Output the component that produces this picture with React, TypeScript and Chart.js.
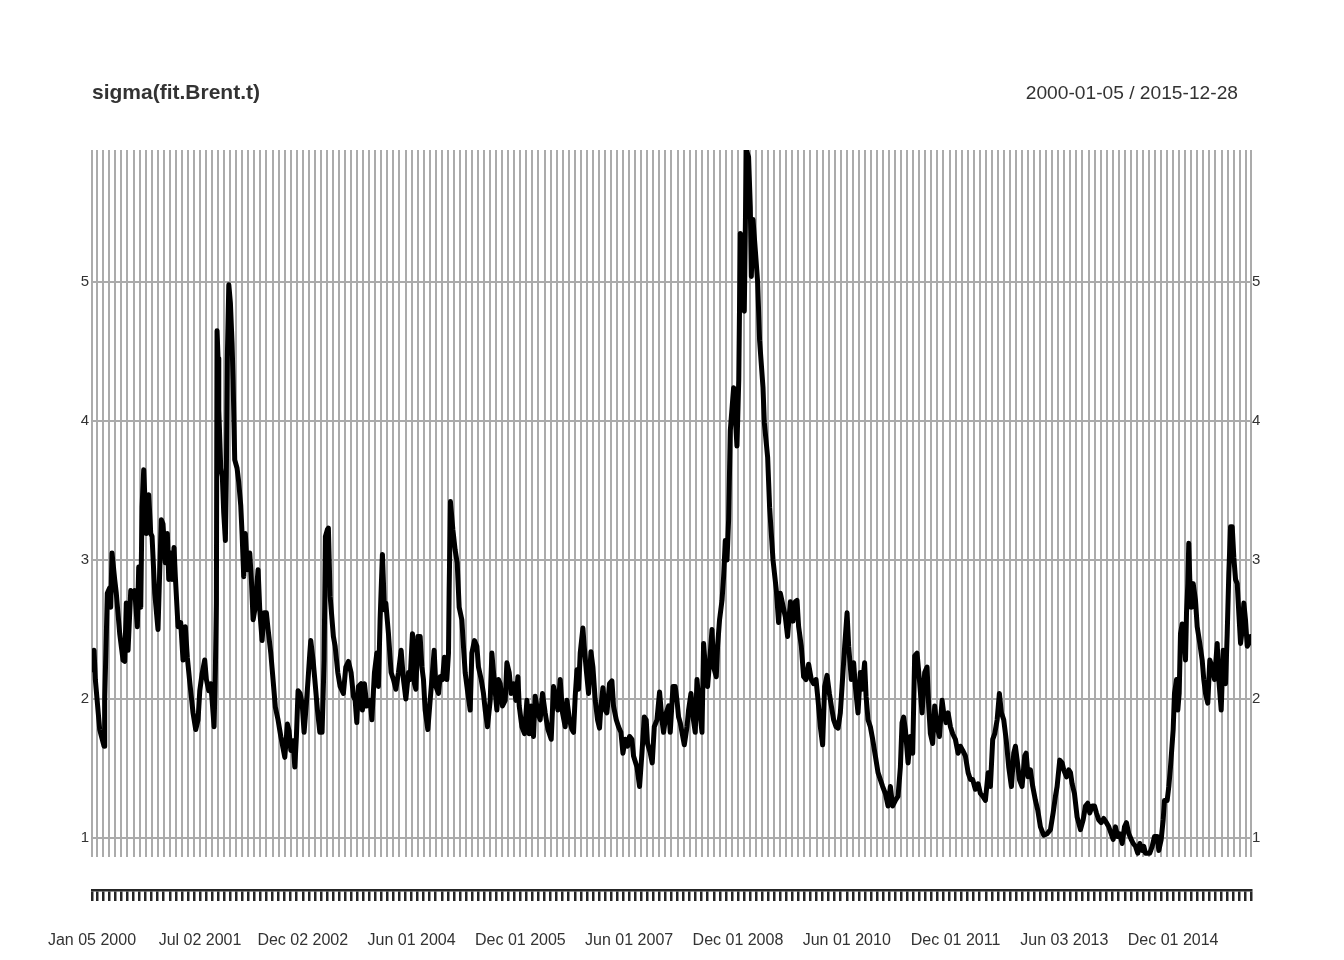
import React, { useEffect, useRef } from "react";
import { Chart, registerables } from "chart.js";

Chart.register(...registerables);

const chartTitle = "sigma(fit.Brent.t)";
const dateRange = "2000-01-05 / 2015-12-28";
const startTime = 2000.011; // 2000-01-05
const endTime = 2015.99; // 2015-12-28
const yTickValues = [1, 2, 3, 4, 5];
const yMin = 0.863;
const yMax = 5.95;
const labelMonthIndex = [0, 18, 35, 53, 71, 89, 107, 125, 143, 161, 179];
const labelTexts = [
  "Jan 05 2000", "Jul 02 2001", "Dec 02 2002", "Jun 01 2004", "Dec 01 2005", "Jun 01 2007",
  "Dec 01 2008", "Jun 01 2010", "Dec 01 2011", "Jun 03 2013", "Dec 01 2014",
];

// observation times (decimal years) and conditional sigma values
const timeA = [2000.011, 2000.039, 2000.057, 2000.117, 2000.177, 2000.186, 2000.208, 2000.222, 2000.255, 2000.269, 2000.287, 2000.324, 2000.346, 2000.393, 2000.439, 2000.462, 2000.484, 2000.508, 2000.545, 2000.577, 2000.6, 2000.636, 2000.655, 2000.683, 2000.701, 2000.724, 2000.76, 2000.793, 2000.821, 2000.839, 2000.876, 2000.921, 2000.945, 2000.967, 2000.99, 2001.022, 2001.05, 2001.069, 2001.096, 2001.114, 2001.142, 2001.16, 2001.197, 2001.234, 2001.266, 2001.298, 2001.325, 2001.359, 2001.404, 2001.441, 2001.473, 2001.497, 2001.528, 2001.565, 2001.588, 2001.621, 2001.648, 2001.666, 2001.694, 2001.712, 2001.726, 2001.735, 2001.749, 2001.759, 2001.786, 2001.808, 2001.827, 2001.85, 2001.863, 2001.877, 2001.897, 2001.919, 2001.942, 2001.956, 2001.979, 2002.011, 2002.034, 2002.062, 2002.08, 2002.103, 2002.125, 2002.153, 2002.186, 2002.208, 2002.232, 2002.255, 2002.301, 2002.324, 2002.356, 2002.383, 2002.415, 2002.439, 2002.476, 2002.507, 2002.539, 2002.576, 2002.614, 2002.669, 2002.705, 2002.728, 2002.752, 2002.783, 2002.807, 2002.829, 2002.852, 2002.88, 2002.908, 2002.935, 2002.967, 2002.99, 2003.014, 2003.027, 2003.059, 2003.083, 2003.119, 2003.152, 2003.183, 2003.211, 2003.229, 2003.257];
const sigmaA = [2.21, 2.35, 2.14, 1.78, 1.66, 2.0, 2.45, 2.76, 2.8, 2.66, 3.05, 2.86, 2.76, 2.47, 2.28, 2.27, 2.69, 2.35, 2.78, 2.76, 2.78, 2.52, 2.95, 2.66, 3.38, 3.65, 3.19, 3.47, 3.19, 3.17, 2.76, 2.5, 2.93, 3.29, 3.26, 2.98, 3.19, 2.86, 3.05, 2.86, 3.09, 2.88, 2.52, 2.55, 2.28, 2.52, 2.3, 2.12, 1.9, 1.78, 1.85, 2.06, 2.18, 2.28, 2.14, 2.06, 2.11, 2.0, 1.8, 2.21, 2.69, 4.65, 4.45, 4.08, 3.66, 3.6, 3.34, 3.14, 3.6, 4.46, 4.98, 4.85, 4.56, 4.3, 3.72, 3.66, 3.56, 3.39, 3.19, 2.88, 3.19, 2.93, 3.05, 2.86, 2.57, 2.64, 2.93, 2.64, 2.42, 2.62, 2.62, 2.5, 2.33, 2.14, 1.94, 1.85, 1.73, 1.58, 1.82, 1.77, 1.63, 1.7, 1.51, 1.73, 2.06, 2.04, 1.97, 1.76, 1.97, 2.14, 2.33, 2.42, 2.28, 2.14, 1.92, 1.76, 1.76, 2.28, 3.17, 3.22];

const timeB = [2003.27, 2003.294, 2003.339, 2003.363, 2003.4, 2003.432, 2003.477, 2003.51, 2003.546, 2003.583, 2003.615, 2003.639, 2003.662, 2003.684, 2003.721, 2003.739, 2003.767, 2003.8, 2003.846, 2003.869, 2003.905, 2003.938, 2003.96, 2003.983, 2004.015, 2004.043, 2004.062, 2004.098, 2004.135, 2004.167, 2004.2, 2004.236, 2004.273, 2004.305, 2004.338, 2004.374, 2004.397, 2004.429, 2004.457, 2004.476, 2004.503, 2004.535, 2004.559, 2004.581, 2004.604, 2004.641, 2004.673, 2004.697, 2004.728, 2004.752, 2004.788, 2004.811, 2004.843, 2004.87, 2004.903, 2004.926, 2004.935, 2004.953, 2004.986, 2005.018, 2005.046, 2005.073, 2005.11, 2005.132, 2005.156, 2005.193, 2005.225, 2005.248, 2005.284, 2005.317, 2005.339, 2005.377, 2005.408, 2005.432, 2005.463, 2005.501, 2005.524, 2005.56, 2005.593, 2005.615, 2005.639, 2005.67, 2005.708, 2005.731, 2005.763, 2005.79, 2005.822, 2005.855, 2005.883, 2005.901, 2005.938, 2005.974, 2006.007, 2006.039, 2006.066, 2006.098, 2006.121, 2006.159, 2006.19, 2006.222, 2006.259, 2006.297, 2006.342, 2006.374, 2006.397, 2006.434, 2006.466, 2006.498, 2006.535];
const sigmaB = [3.23, 2.74, 2.45, 2.38, 2.19, 2.09, 2.04, 2.23, 2.27, 2.19, 2.02, 1.99, 1.83, 2.09, 2.11, 1.92, 2.11, 1.95, 1.99, 1.85, 2.19, 2.33, 2.09, 2.57, 3.04, 2.64, 2.69, 2.47, 2.19, 2.14, 2.07, 2.19, 2.35, 2.14, 2.0, 2.19, 2.14, 2.47, 2.11, 2.07, 2.45, 2.45, 2.23, 2.14, 1.92, 1.78, 1.99, 2.14, 2.35, 2.09, 2.04, 2.16, 2.14, 2.3, 2.14, 2.33, 2.78, 3.42, 3.22, 3.07, 2.98, 2.66, 2.57, 2.38, 2.19, 2.04, 1.92, 2.33, 2.42, 2.38, 2.23, 2.14, 2.04, 1.92, 1.8, 1.99, 2.33, 2.11, 1.92, 2.14, 2.11, 1.95, 1.99, 2.26, 2.19, 2.04, 2.11, 1.99, 2.16, 1.95, 1.8, 1.75, 1.99, 1.75, 1.95, 1.73, 2.02, 1.9, 1.85, 2.04, 1.9, 1.78, 1.71, 2.09, 2.04, 1.92, 2.14, 1.9, 1.8];

const timeC = [2006.559, 2006.594, 2006.628, 2006.65, 2006.673, 2006.697, 2006.719, 2006.742, 2006.779, 2006.797, 2006.825, 2006.857, 2006.89, 2006.917, 2006.949, 2006.981, 2007.008, 2007.028, 2007.055, 2007.087, 2007.11, 2007.146, 2007.179, 2007.201, 2007.239, 2007.27, 2007.303, 2007.331, 2007.363, 2007.394, 2007.422, 2007.455, 2007.477, 2007.524, 2007.56, 2007.593, 2007.625, 2007.652, 2007.67, 2007.708, 2007.735, 2007.763, 2007.8, 2007.836, 2007.869, 2007.891, 2007.928, 2007.96, 2007.983, 2008.021, 2008.052, 2008.076, 2008.098, 2008.121, 2008.145, 2008.177, 2008.214, 2008.236, 2008.269, 2008.297, 2008.328, 2008.352, 2008.388, 2008.421, 2008.443, 2008.48, 2008.498, 2008.535, 2008.559, 2008.581, 2008.618, 2008.636, 2008.663, 2008.697, 2008.719, 2008.742, 2008.766, 2008.788, 2008.811, 2008.857, 2008.903, 2008.928, 2008.949, 2008.972, 2009.004, 2009.032, 2009.063, 2009.087, 2009.101, 2009.124, 2009.156, 2009.188, 2009.215, 2009.262, 2009.28, 2009.326, 2009.353, 2009.4, 2009.446, 2009.477, 2009.501, 2009.538, 2009.57, 2009.601, 2009.639, 2009.676, 2009.708, 2009.731, 2009.753, 2009.79];
const sigmaC = [1.99, 1.85, 1.78, 1.76, 2.02, 2.21, 2.07, 2.33, 2.51, 2.38, 2.21, 2.04, 2.34, 2.23, 1.99, 1.85, 1.79, 1.95, 2.08, 1.92, 1.9, 2.11, 2.13, 1.95, 1.85, 1.8, 1.76, 1.61, 1.71, 1.66, 1.73, 1.71, 1.59, 1.51, 1.37, 1.61, 1.87, 1.85, 1.68, 1.61, 1.54, 1.8, 1.85, 2.05, 1.85, 1.76, 1.9, 1.95, 1.76, 2.09, 2.09, 1.99, 1.87, 1.83, 1.76, 1.67, 1.8, 1.92, 2.04, 1.87, 1.76, 2.14, 1.92, 1.76, 2.4, 2.14, 2.09, 2.33, 2.5, 2.23, 2.16, 2.38, 2.57, 2.71, 2.88, 3.14, 3.0, 3.29, 3.93, 4.24, 3.82, 4.3, 5.35, 5.3, 4.79, 5.95, 5.9, 5.54, 5.04, 5.45, 5.23, 5.0, 4.58, 4.24, 3.99, 3.74, 3.38, 3.0, 2.78, 2.55, 2.76, 2.67, 2.59, 2.45, 2.7, 2.56, 2.7, 2.71, 2.52, 2.38];

const timeD = [2009.822, 2009.855, 2009.891, 2009.928, 2009.96, 2009.993, 2010.021, 2010.052, 2010.084, 2010.112, 2010.145, 2010.177, 2010.204, 2010.236, 2010.269, 2010.297, 2010.328, 2010.352, 2010.388, 2010.421, 2010.443, 2010.48, 2010.512, 2010.535, 2010.572, 2010.604, 2010.628, 2010.663, 2010.683, 2010.71, 2010.742, 2010.774, 2010.811, 2010.848, 2010.88, 2010.912, 2010.949, 2010.986, 2011.018, 2011.05, 2011.087, 2011.124, 2011.156, 2011.179, 2011.201, 2011.225, 2011.262, 2011.294, 2011.326, 2011.353, 2011.386, 2011.418, 2011.455, 2011.491, 2011.524, 2011.546, 2011.57, 2011.601, 2011.629, 2011.662, 2011.694, 2011.731, 2011.753, 2011.786, 2011.814, 2011.846, 2011.877, 2011.914, 2011.952, 2011.983, 2012.015, 2012.052, 2012.09, 2012.121, 2012.153, 2012.19, 2012.228, 2012.259, 2012.291, 2012.328, 2012.366, 2012.397, 2012.429, 2012.457, 2012.49, 2012.521, 2012.549, 2012.581, 2012.614, 2012.65, 2012.687, 2012.719, 2012.742, 2012.766, 2012.797, 2012.834, 2012.87, 2012.89, 2012.917, 2012.949, 2012.981];
const sigmaD = [2.16, 2.14, 2.25, 2.14, 2.11, 2.14, 1.99, 1.8, 1.67, 2.09, 2.17, 2.04, 1.95, 1.85, 1.8, 1.79, 1.9, 2.09, 2.38, 2.62, 2.38, 2.14, 2.26, 2.09, 1.9, 2.19, 2.07, 2.26, 2.02, 1.85, 1.8, 1.71, 1.59, 1.47, 1.42, 1.37, 1.32, 1.23, 1.37, 1.23, 1.27, 1.3, 1.51, 1.83, 1.87, 1.78, 1.54, 1.73, 1.61, 2.31, 2.33, 2.14, 1.9, 2.19, 2.23, 1.95, 1.75, 1.68, 1.95, 1.8, 1.73, 1.99, 1.9, 1.83, 1.9, 1.8, 1.75, 1.71, 1.61, 1.66, 1.63, 1.59, 1.47, 1.42, 1.42, 1.35, 1.39, 1.32, 1.3, 1.27, 1.47, 1.37, 1.71, 1.75, 1.85, 2.04, 1.9, 1.85, 1.71, 1.51, 1.37, 1.61, 1.66, 1.56, 1.42, 1.37, 1.59, 1.61, 1.44, 1.49, 1.37];

const timeE = [2013.018, 2013.05, 2013.087, 2013.132, 2013.179, 2013.225, 2013.262, 2013.294, 2013.317, 2013.353, 2013.386, 2013.408, 2013.446, 2013.477, 2013.501, 2013.524, 2013.556, 2013.593, 2013.639, 2013.676, 2013.708, 2013.739, 2013.767, 2013.8, 2013.832, 2013.859, 2013.891, 2013.924, 2013.96, 2013.997, 2014.029, 2014.062, 2014.09, 2014.121, 2014.153, 2014.181, 2014.214, 2014.246, 2014.273, 2014.305, 2014.338, 2014.366, 2014.397, 2014.429, 2014.457, 2014.49, 2014.512, 2014.535, 2014.567, 2014.594, 2014.628, 2014.659, 2014.697, 2014.719, 2014.752, 2014.779, 2014.797, 2014.834, 2014.857, 2014.88, 2014.917, 2014.935, 2014.963, 2014.981, 2015.0, 2015.018, 2015.041, 2015.063, 2015.087, 2015.101, 2015.119, 2015.132, 2015.146, 2015.166, 2015.193, 2015.225, 2015.248, 2015.284, 2015.317, 2015.339, 2015.363, 2015.394, 2015.422, 2015.455, 2015.487, 2015.524, 2015.546, 2015.579, 2015.607, 2015.639, 2015.662, 2015.684, 2015.708, 2015.731, 2015.753, 2015.777, 2015.8, 2015.822, 2015.846, 2015.869, 2015.891, 2015.914, 2015.938, 2015.96, 2015.983, 2015.99];
const sigmaE = [1.27, 1.2, 1.08, 1.02, 1.03, 1.06, 1.18, 1.3, 1.37, 1.56, 1.54, 1.49, 1.44, 1.49, 1.47, 1.39, 1.32, 1.15, 1.06, 1.13, 1.23, 1.25, 1.18, 1.23, 1.23, 1.18, 1.13, 1.11, 1.14, 1.11, 1.08, 1.03, 0.99, 1.08, 1.01, 1.03, 0.96, 1.08, 1.11, 1.03, 0.99, 0.96, 0.94, 0.89, 0.96, 0.91, 0.94, 0.89, 0.89, 0.89, 0.94, 1.01, 1.01, 0.91, 0.99, 1.13, 1.27, 1.27, 1.37, 1.51, 1.78, 2.04, 2.14, 1.92, 2.04, 2.47, 2.54, 2.5, 2.28, 2.62, 2.83, 3.12, 2.86, 2.66, 2.83, 2.71, 2.52, 2.4, 2.28, 2.14, 2.04, 1.97, 2.28, 2.23, 2.14, 2.4, 2.14, 1.92, 2.35, 2.11, 2.47, 2.9, 3.24, 3.24, 3.02, 2.86, 2.83, 2.62, 2.4, 2.5, 2.69, 2.57, 2.38, 2.4, 2.45, 2.42];

const FONT = "'Liberation Sans', Arial, Helvetica, sans-serif";
const GRID_COLOR = "#ababab";
const TEXT_COLOR = "#333333";
const AXIS_COLOR = "#262626";

export default function App() {
  const canvasRef = useRef<HTMLCanvasElement | null>(null);

  useEffect(() => {
    const canvas = canvasRef.current;
    if (!canvas) return;
    const times = [...timeA, ...timeB, ...timeC, ...timeD, ...timeE];
    const sigmas = [...sigmaA, ...sigmaB, ...sigmaC, ...sigmaD, ...sigmaE];
    const points = times.map((t, i) => ({ x: t, y: sigmas[i] }));

    const monthTicks: number[] = [startTime];
    for (let m = 1; m < 192; m++) monthTicks.push(2000 + m / 12);
    monthTicks.push(endTime);
    const labelByIndex = new Map<number, string>();
    labelMonthIndex.forEach((m, i) => labelByIndex.set(m, labelTexts[i]));

    const setMonthTicks = (s: any) => {
      s.ticks = monthTicks.map((v) => ({ value: v }));
    };
    const setYTicks = (s: any) => {
      s.ticks = yTickValues.map((v) => ({ value: v }));
    };

    const headerPlugin = {
      id: "header",
      afterDraw(chart: any) {
        const ctx = chart.ctx;
        ctx.save();
        ctx.fillStyle = TEXT_COLOR;
        ctx.textBaseline = "alphabetic";
        ctx.textAlign = "left";
        ctx.font = `bold 21px ${FONT}`;
        ctx.fillText(chartTitle, chart.chartArea.left, 99);
        ctx.font = `19.2px ${FONT}`;
        ctx.textAlign = "right";
        ctx.fillText(dateRange, 1238, 98.5);
        ctx.restore();
      },
    };

    const chart = new Chart(canvas, {
      type: "line",
      data: {
        datasets: [
          {
            data: points,
            borderColor: "#000000",
            borderWidth: 5,
            pointRadius: 0,
            tension: 0,
            borderJoinStyle: "round",
            borderCapStyle: "round",
            fill: false,
          },
        ],
      },
      options: {
        responsive: false,
        animation: false,
        layout: { padding: { top: 150, left: 0, right: 0, bottom: 0 } },
        plugins: {
          legend: { display: false },
          tooltip: { enabled: false },
          title: { display: false },
        },
        scales: {
          x: {
            type: "linear",
            position: "bottom",
            weight: 0,
            min: startTime,
            max: endTime,
            afterBuildTicks: setMonthTicks,
            afterFit: (s: any) => {
              s.height = 33;
            },
            ticks: { display: false },
            grid: { color: GRID_COLOR, lineWidth: 2, drawTicks: false, drawOnChartArea: true },
            border: { display: false },
          },
          x2: {
            type: "linear",
            position: "bottom",
            weight: 1,
            min: startTime,
            max: endTime,
            afterBuildTicks: setMonthTicks,
            afterFit: (s: any) => {
              s.height = 70;
            },
            ticks: {
              autoSkip: false,
              maxRotation: 0,
              minRotation: 0,
              padding: 30,
              color: TEXT_COLOR,
              font: { family: FONT, size: 16 },
              callback: (_v: any, i: number) => labelByIndex.get(i) ?? "",
            },
            grid: {
              drawOnChartArea: false,
              drawTicks: true,
              tickLength: 11,
              color: AXIS_COLOR,
              tickColor: AXIS_COLOR,
              lineWidth: 2.5,
              tickWidth: 2.5,
            },
            border: { display: true, color: AXIS_COLOR, width: 2.5 },
          },
          y: {
            position: "left",
            min: yMin,
            max: yMax,
            afterBuildTicks: setYTicks,
            afterFit: (s: any) => {
              s.width = 92;
            },
            ticks: { padding: 3, color: TEXT_COLOR, font: { family: FONT, size: 15 } },
            grid: { color: GRID_COLOR, lineWidth: 2, drawTicks: false },
            border: { display: false },
          },
          y2: {
            position: "right",
            min: yMin,
            max: yMax,
            afterBuildTicks: setYTicks,
            afterFit: (s: any) => {
              s.width = 93;
            },
            ticks: { padding: 1, color: TEXT_COLOR, font: { family: FONT, size: 15 } },
            grid: { display: false, drawTicks: false },
            border: { display: false },
          },
        },
      },
      plugins: [headerPlugin],
    } as any);

    return () => chart.destroy();
  }, []);

  return (
    <div style={{ position: "absolute", left: 0, top: 0, width: 1344, height: 960, background: "#ffffff" }}>
      <canvas ref={canvasRef} width={1344} height={960} style={{ display: "block", width: 1344, height: 960 }} />
    </div>
  );
}
